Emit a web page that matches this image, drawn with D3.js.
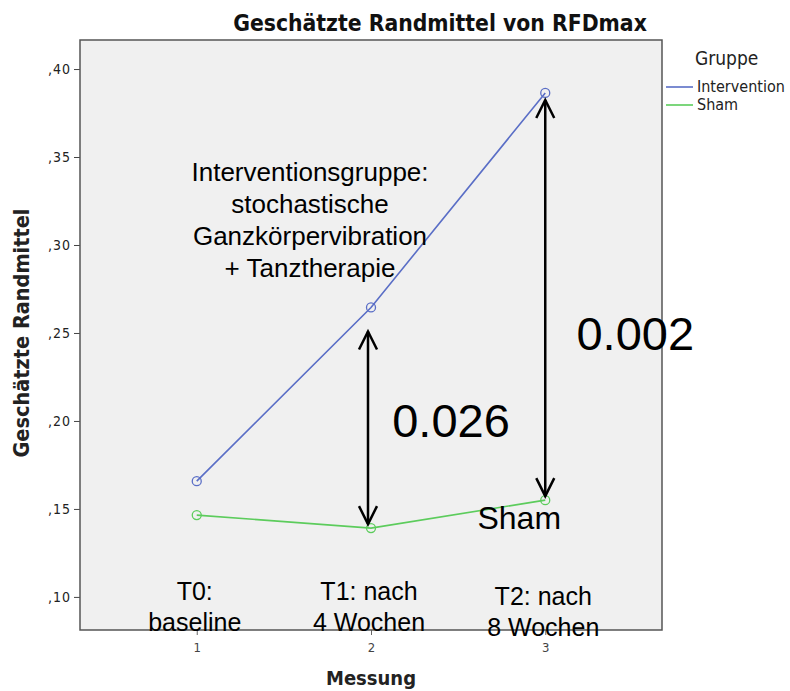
<!DOCTYPE html>
<html>
<head>
<meta charset="utf-8">
<script src="https://cdn.jsdelivr.net/npm/d3@7"></script>
<style>
  body { margin: 0; background: #fff; }
  .spss { font-family: "DejaVu Sans Condensed", "Liberation Sans Narrow", sans-serif; font-stretch: condensed; }
  .note { font-family: "Liberation Sans", Arial, sans-serif; fill: #000; }
</style>
</head>
<body>
<div id="chart"></div>
<script>
// estimated marginal means
var measurements = [1, 2, 3];
var groups = ['Intervention', 'Sham'];
var intervention = [0.1658, 0.2645, 0.3864];
var sham = [0.1465, 0.1391, 0.1550];
var yTicks = [0.10, 0.15, 0.20, 0.25, 0.30, 0.35, 0.40];
var timeLabels = [['T0:', 'baseline'], ['T1: nach', '4 Wochen'], ['T2: nach', '8 Wochen']];
var pValues = ['0.026', '0.002'];
var pAt = [2, 3];
var groupNote = ['Interventionsgruppe:', 'stochastische', 'Ganzkörpervibration', '+ Tanztherapie'];

var width = 790, height = 691;
var margin = { top: 40, right: 128, bottom: 61, left: 80 };
var w = width - margin.left - margin.right;
var h = height - margin.top - margin.bottom;
var colors = { Intervention: '#5a6ec6', Sham: '#5ccc5c' };

var svg = d3.select('#chart').append('svg')
  .attr('width', width)
  .attr('height', height);

var g = svg.append('g')
  .attr('transform', 'translate(' + margin.left + ',' + margin.top + ')');

var xScale = d3.scaleLinear().domain([0.33, 3.67]).range([0, w]);
var yScale = d3.scaleLinear().domain([0.0812, 0.4165]).range([h, 0]);

// plot background
g.append('rect')
  .attr('width', w)
  .attr('height', h)
  .attr('fill', '#f0f0f0');

// axes
var yAxis = d3.axisLeft(yScale).tickValues(yTicks).tickSize(6).tickPadding(3)
  .tickFormat(d => d3.format('.2f')(d).replace('0.', ','));
var yg = g.append('g').attr('class', 'spss').call(yAxis);
yg.select('.domain').remove();
yg.selectAll('line').attr('stroke', '#444');
yg.selectAll('text').attr('font-size', 14).attr('fill', '#222').attr('letter-spacing', 1);

var xAxis = d3.axisBottom(xScale).tickValues(measurements).tickSize(5).tickPadding(8)
  .tickFormat(d3.format('d'));
var xg = g.append('g').attr('class', 'spss')
  .attr('transform', 'translate(0,' + h + ')')
  .call(xAxis);
xg.select('.domain').remove();
xg.selectAll('line').attr('stroke', '#666');
xg.selectAll('text').attr('font-size', 13).attr('fill', '#444');

// frame
g.append('rect')
  .attr('width', w)
  .attr('height', h)
  .attr('fill', 'none')
  .attr('stroke', '#555')
  .attr('stroke-width', 1.5);

// lines and markers
var series = [
  { name: 'Intervention', values: intervention },
  { name: 'Sham', values: sham }
];
var line = d3.line()
  .x((d, i) => xScale(measurements[i]))
  .y(d => yScale(d));

series.forEach(s => {
  g.append('path')
    .datum(s.values)
    .attr('d', line)
    .attr('fill', 'none')
    .attr('stroke', colors[s.name])
    .attr('stroke-width', 1.6);
  g.selectAll(null)
    .data(s.values)
    .enter()
    .append('circle')
    .attr('cx', (d, i) => xScale(measurements[i]))
    .attr('cy', d => yScale(d))
    .attr('r', 4.5)
    .attr('fill', 'none')
    .attr('stroke', colors[s.name])
    .attr('stroke-width', 1.3);
});

// double-headed arrows between the groups
function arrow(x, y1, y2) {
  var hw = 9, hl = 18;
  g.append('line')
    .attr('x1', x).attr('x2', x)
    .attr('y1', y1).attr('y2', y2)
    .attr('stroke', '#000').attr('stroke-width', 2.5);
  g.append('path')
    .attr('d', 'M' + (x - hw) + ',' + (y1 + hl) + 'L' + x + ',' + y1 + 'L' + (x + hw) + ',' + (y1 + hl))
    .attr('fill', 'none').attr('stroke', '#000').attr('stroke-width', 2.5);
  g.append('path')
    .attr('d', 'M' + (x - hw) + ',' + (y2 - hl) + 'L' + x + ',' + y2 + 'L' + (x + hw) + ',' + (y2 - hl))
    .attr('fill', 'none').attr('stroke', '#000').attr('stroke-width', 2.5);
}
var i1 = pAt[0] - 1, i2 = pAt[1] - 1;
arrow(xScale(pAt[0]) - 3, yScale(intervention[i1]) + 24, yScale(sham[i1]) - 4);
arrow(xScale(pAt[1]), yScale(intervention[i2]) + 7, yScale(sham[i2]) - 4);

g.append('text').attr('class', 'note')
  .attr('x', xScale(pAt[0]) + 80).attr('y', yScale(0.20) + 16)
  .attr('text-anchor', 'middle').attr('font-size', 47)
  .text(pValues[0]);
g.append('text').attr('class', 'note')
  .attr('x', xScale(pAt[1]) + 90).attr('y', yScale(0.25) + 17)
  .attr('text-anchor', 'middle').attr('font-size', 47)
  .text(pValues[1]);

g.append('text').attr('class', 'note')
  .attr('x', xScale(pAt[1]) - 26).attr('y', yScale(sham[i2]) + 29)
  .attr('text-anchor', 'middle').attr('font-size', 32)
  .text('Sham');

g.append('text').attr('class', 'note')
  .attr('text-anchor', 'middle').attr('font-size', 26)
  .selectAll('tspan')
  .data(groupNote)
  .enter()
  .append('tspan')
  .attr('x', xScale(1.65))
  .attr('y', (d, i) => 141 + i * 32)
  .text(d => d);

g.selectAll('.time')
  .data(timeLabels)
  .enter()
  .append('text')
  .attr('class', 'note time')
  .attr('text-anchor', 'middle').attr('font-size', 25)
  .each(function(d, i) {
    var t = d3.select(this);
    var dy = i === 2 ? 5 : 0;
    t.append('tspan').attr('x', xScale(measurements[i]) - 2).attr('y', h - 30 + dy).text(d[0]);
    t.append('tspan').attr('x', xScale(measurements[i]) - 2).attr('y', h + 1 + dy).text(d[1]);
  });

// titles
svg.append('text').attr('class', 'spss')
  .attr('x', 440).attr('y', 31)
  .attr('text-anchor', 'middle')
  .attr('font-size', 22.7).attr('font-weight', 'bold').attr('fill', '#111')
  .text('Geschätzte Randmittel von RFDmax');

svg.append('text').attr('class', 'spss')
  .attr('transform', 'translate(29,' + 333 + ') rotate(-90)')
  .attr('text-anchor', 'middle')
  .attr('font-size', 21.5).attr('font-weight', 'bold').attr('fill', '#222')
  .text('Geschätzte Randmittel');

svg.append('text').attr('class', 'spss')
  .attr('x', margin.left + xScale(2)).attr('y', 685)
  .attr('text-anchor', 'middle')
  .attr('font-size', 20).attr('font-weight', 'bold').attr('fill', '#222')
  .text('Messung');

// legend
var legend = svg.append('g').attr('class', 'spss')
  .attr('transform', 'translate(666,0)');
legend.append('text')
  .attr('x', 29).attr('y', 65)
  .attr('font-size', 19).attr('fill', '#222')
  .text('Gruppe');
legend.selectAll('.item')
  .data(groups)
  .enter()
  .append('g')
  .attr('transform', (d, i) => 'translate(0,' + (87 + i * 18) + ')')
  .each(function(d) {
    var it = d3.select(this);
    it.append('line').attr('x1', 0).attr('x2', 27)
      .attr('stroke', colors[d]).attr('stroke-width', 1.6);
    it.append('text').attr('x', 31).attr('y', 5)
      .attr('font-size', 16).attr('fill', '#222')
      .text(d);
  });
</script>
</body>
</html>
